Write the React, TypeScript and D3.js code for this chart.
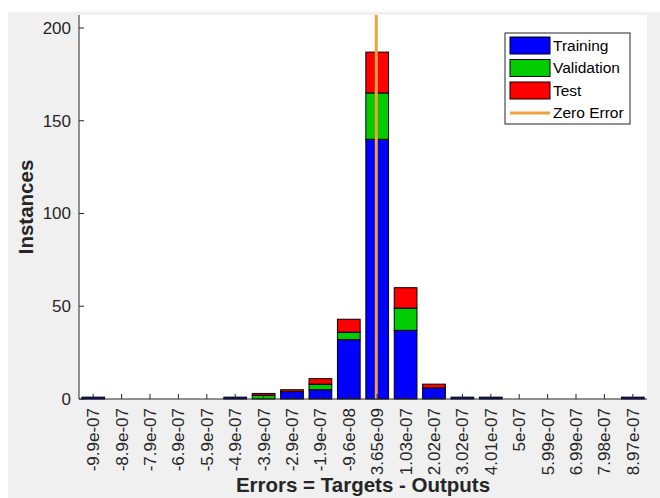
import React from "react";
import * as d3 from "d3";

// bin centres (as printed by ploterrhist)
const binLabels = [
  "-9.9e-07", "-8.9e-07", "-7.9e-07", "-6.9e-07", "-5.9e-07",
  "-4.9e-07", "-3.9e-07", "-2.9e-07", "-1.9e-07", "-9.6e-08",
  "3.65e-09", "1.03e-07", "2.02e-07", "3.02e-07", "4.01e-07",
  "5e-07", "5.99e-07", "6.99e-07", "7.98e-07", "8.97e-07",
];
const training = [1, 0, 0, 0, 0, 1, 0, 4, 5, 32, 140, 37, 6, 1, 1, 0, 0, 0, 0, 1];
const validation = [0, 0, 0, 0, 0, 0, 2, 0, 3, 4, 25, 12, 0, 0, 0, 0, 0, 0, 0, 0];
const test = [0, 0, 0, 0, 0, 0, 1, 1, 3, 7, 22, 11, 2, 0, 0, 0, 0, 0, 0, 0];
const yTicks = [0, 50, 100, 150, 200];
const seriesNames = ["Training", "Validation", "Test"];
const seriesColors = ["#0000ff", "#00cc00", "#ff0000"];
const zeroError = 0;

const W = 660;
const H = 498;
const left = 79, right = 647, top = 15, bottom = 399;
const txt = "#262626";
const font = "Arial, 'Liberation Sans', Helvetica, sans-serif";

export default function App() {
  const x = d3.scaleBand<string>().domain(binLabels).range([left, right]).paddingInner(0.2).paddingOuter(0.1);
  const first = +binLabels[0];
  const last = +binLabels[binLabels.length - 1];
  const half = (last - first) / (binLabels.length - 1) / 2;
  const xVal = d3.scaleLinear().domain([first - half, last + half]).range([left, right]);
  const y = d3.scaleLinear().domain([0, 207]).range([bottom, top]);

  const rows = binLabels.map((b, i) => ({ bin: b, Training: training[i], Validation: validation[i], Test: test[i] }));
  const stacked = d3.stack<any>().keys(seriesNames)(rows);

  return (
    <svg width={W} height={H} style={{ position: "absolute", left: 0, top: 0, background: "#fff" }} fontFamily={font}>
      <rect x={8} y={12} width={W - 8} height={H - 12} fill="#f0f0f0" />
      <rect x={left} y={top} width={right - left} height={bottom - top} fill="#fff" />

      {stacked.map((s, si) => (
        <g key={s.key}>
          {s.map((d, i) =>
            d[1] - d[0] > 0 ? (
              <rect
                key={i}
                x={x(binLabels[i])}
                width={x.bandwidth()}
                y={y(d[1])}
                height={y(d[0]) - y(d[1])}
                fill={seriesColors[si]}
                stroke="#000"
                strokeWidth={1}
              />
            ) : null
          )}
        </g>
      ))}

      <line x1={xVal(zeroError)} x2={xVal(zeroError)} y1={top} y2={bottom} stroke="#f2a23c" strokeWidth={3} />

      {/* axes */}
      <line x1={left} x2={left} y1={top} y2={bottom} stroke={txt} strokeWidth={1} />
      <line x1={left} x2={right} y1={bottom} y2={bottom} stroke={txt} strokeWidth={1} />
      {yTicks.map((t) => (
        <g key={t}>
          <line x1={left} x2={left + 5} y1={y(t)} y2={y(t)} stroke={txt} />
          <text x={left - 8} y={y(t)} dy="0.35em" textAnchor="end" fontSize={17} fill={txt}>
            {t}
          </text>
        </g>
      ))}
      {binLabels.map((b) => {
        const cx = (x(b) as number) + x.bandwidth() / 2;
        return (
          <g key={b}>
            <line x1={cx} x2={cx} y1={bottom} y2={bottom - 5} stroke={txt} />
            <text
              transform={`translate(${cx},${bottom + 9}) rotate(-90)`}
              dy="0.35em"
              textAnchor="end"
              fontSize={17}
              fill={txt}
            >
              {b}
            </text>
          </g>
        );
      })}
      <text x={363} y={492} textAnchor="middle" fontSize={20.5} fontWeight="bold" fill={txt}>
        Errors = Targets - Outputs
      </text>
      <text transform="translate(33,207) rotate(-90)" textAnchor="middle" fontSize={20.5} fontWeight="bold" fill={txt}>
        Instances
      </text>

      {/* legend */}
      <g>
        <rect x={505} y={33} width={125} height={91} fill="#fff" stroke={txt} strokeWidth={1} />
        {seriesNames.map((n, i) => (
          <g key={n}>
            <rect x={510} y={37 + i * 22.5} width={40} height={17} fill={seriesColors[i]} stroke="#000" />
            <text x={553} y={45.5 + i * 22.5} dy="0.35em" fontSize={15.5} fill="#000">
              {n}
            </text>
          </g>
        ))}
        <line x1={510} x2={550} y1={113} y2={113} stroke="#f2a23c" strokeWidth={3} />
        <text x={553} y={113} dy="0.35em" fontSize={15.5} fill="#000">
          Zero Error
        </text>
      </g>
    </svg>
  );
}
